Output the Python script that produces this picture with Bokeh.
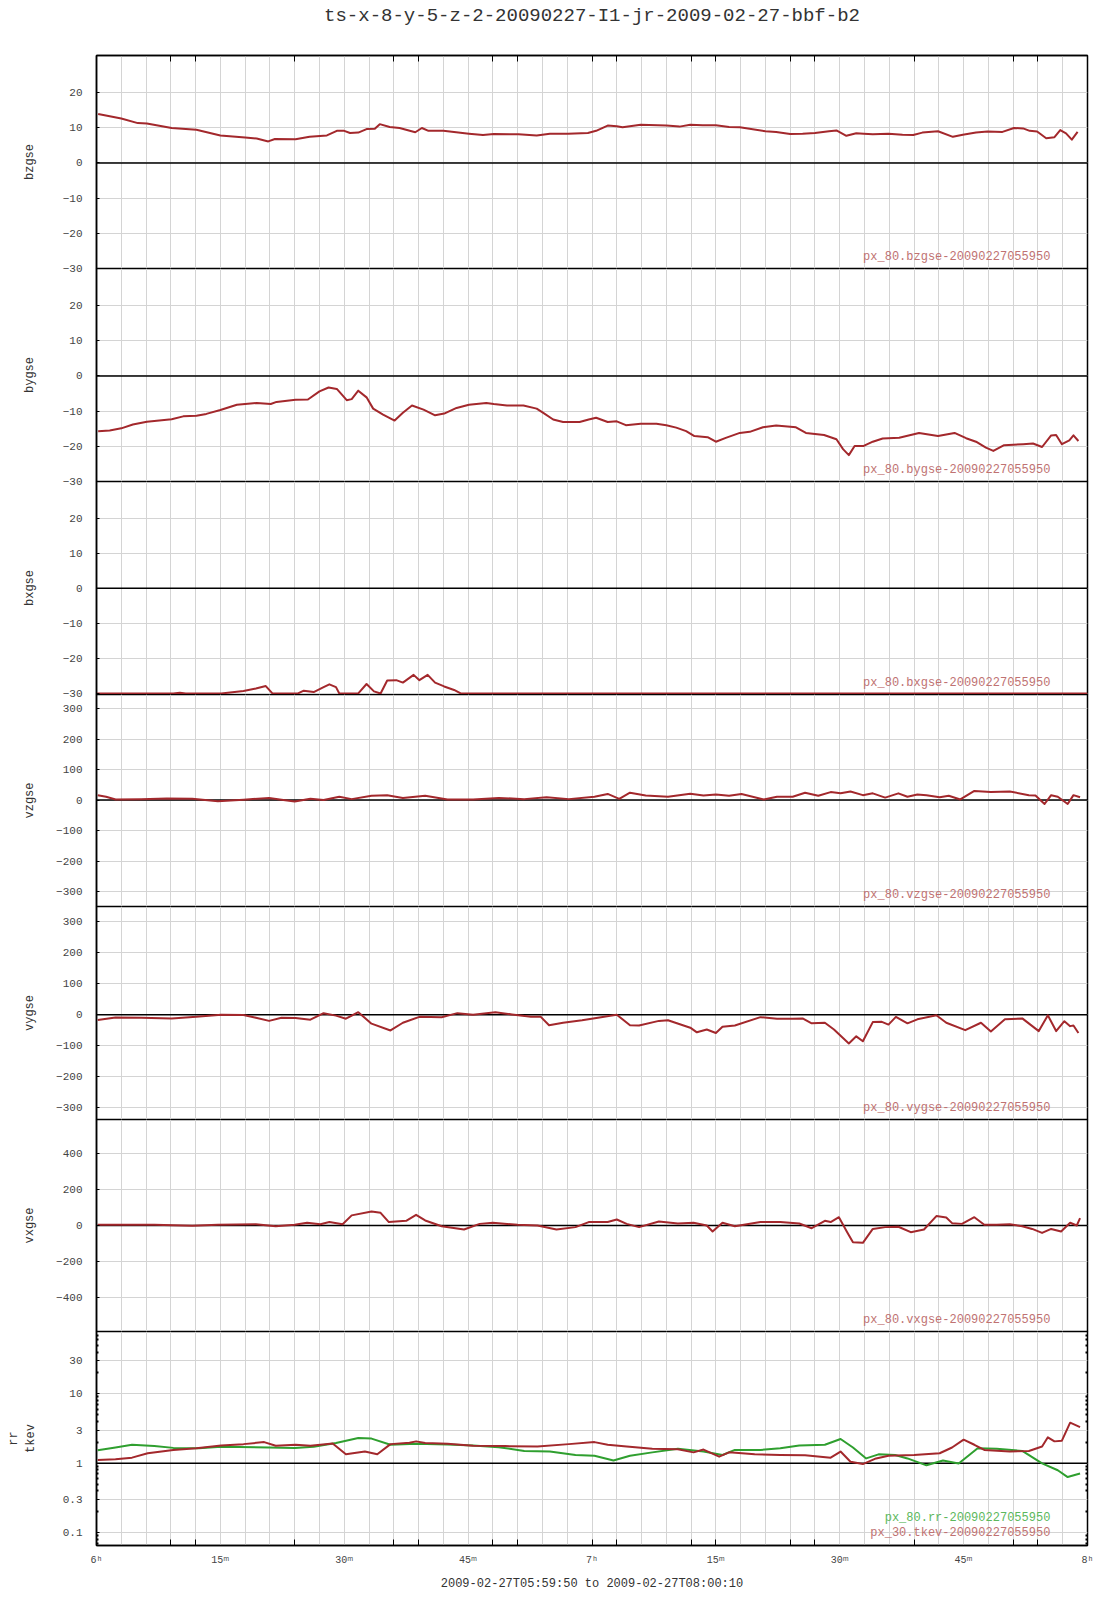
import math
from bokeh.plotting import figure
from bokeh.models import Range1d, FixedTicker, LinearAxis, LogAxis, Span, Label
from bokeh.layouts import column
from bokeh.embed import file_html
from bokeh.resources import INLINE

# ---------------- data (time in minutes after 06:00) ----------------
TITLE = "ts-x-8-y-5-z-2-20090227-I1-jr-2009-02-27-bbf-b2"
RANGE_TEXT = "2009-02-27T05:59:50 to 2009-02-27T08:00:10"

bz_t = [0.2, 3.0, 5.0, 6.1, 9.1, 12.1, 15.0, 18.0, 19.4, 20.8, 21.6, 24.1, 25.8, 27.9, 29.1,
        30.0, 30.7, 31.7, 32.7, 33.7, 34.3, 35.5, 36.7, 38.6, 39.4, 40.2, 42.0, 45.1, 46.8, 48.1,
        51.1, 53.3, 54.9, 57.1, 59.5, 60.5, 61.9, 63.0, 63.7, 65.9, 69.0, 70.6, 71.9, 73.4, 75.0,
        76.6, 77.9, 81.0, 82.3, 84.0, 85.5, 87.0, 88.7, 89.6, 90.8, 92.0, 92.9, 94.0, 95.9, 97.6,
        98.9, 100.0, 101.9, 103.7, 104.9, 106.5, 107.9, 109.7, 111.1, 112.2, 113.0, 113.9, 115.0,
        116.0, 116.7, 117.4, 118.1, 118.8]
bz_v = [13.9, 12.6, 11.3, 11.2, 9.9, 9.4, 7.8, 7.2, 6.9, 6.1, 6.8, 6.7, 7.4, 7.8, 9.1,
        9.1, 8.5, 8.6, 9.6, 9.7, 11.0, 10.2, 9.9, 8.7, 9.9, 9.1, 9.1, 8.3, 7.9, 8.2,
        8.1, 7.8, 8.3, 8.3, 8.5, 9.1, 10.6, 10.4, 10.1, 10.8, 10.6, 10.3, 10.8, 10.7, 10.7,
        10.2, 10.1, 9.0, 8.8, 8.2, 8.3, 8.5, 9.0, 9.2, 7.7, 8.4, 8.3, 8.1, 8.3, 8.0,
        7.9, 8.6, 9.0, 7.4, 8.0, 8.6, 8.9, 8.8, 9.9, 9.8, 9.1, 8.9, 7.0,
        7.3, 9.3, 8.4, 6.6, 8.8]

by_t = [0.2, 1.6, 3.0, 4.4, 6.1, 9.1, 10.5, 12.1, 13.3, 15.0, 17.0, 18.0, 19.4, 21.1, 21.8,
        24.1, 25.6, 27.0, 28.1, 29.1, 30.3, 30.9, 31.7, 32.7, 33.5, 34.7, 36.1, 37.1, 38.2, 39.6,
        41.0, 42.1, 43.6, 45.1, 47.2, 48.1, 49.7, 51.7, 53.3, 54.1, 55.3, 56.5, 58.5, 59.6,
        60.5, 61.9, 63.0, 64.1, 65.9, 67.8, 69.0, 70.2, 71.4, 72.4, 74.0, 75.0, 76.2, 77.9, 79.1,
        80.7, 82.3, 84.7, 85.9, 88.1, 89.6, 90.4, 91.1, 91.8, 92.9, 94.0, 95.2, 97.2, 99.6, 101.9,
        103.9, 105.3, 106.5, 107.7, 108.6, 109.9, 112.2, 113.4, 114.5, 115.6, 116.2, 116.9, 117.8,
        118.3, 118.9]
by_v = [-15.7, -15.5, -14.9, -13.8, -13.0, -12.3, -11.5, -11.3, -10.8, -9.7, -8.2, -8.0, -7.7, -8.0, -7.4,
        -6.8, -6.7, -4.4, -3.3, -3.7, -6.9, -6.6, -4.2, -6.1, -9.3, -11.0, -12.7, -10.5, -8.4, -9.6,
        -11.2, -10.7, -9.1, -8.2, -7.7, -8.0, -8.4, -8.4, -9.3, -10.5, -12.4, -13.1, -13.1, -12.4,
        -11.9, -13.1, -12.9, -14.0, -13.6, -13.6, -14.0, -14.7, -15.7, -17.1, -17.4, -18.7, -17.6, -16.2, -15.9,
        -14.6, -14.1, -14.6, -16.2, -16.8, -18.0, -20.8, -22.5, -19.9, -19.9, -18.7, -17.8, -17.6, -16.2, -17.1,
        -16.2, -17.7, -18.7, -20.4, -21.3, -19.7, -19.4, -19.2, -20.2, -16.9, -16.8, -19.4, -18.3,
        -16.9, -18.5]

bx_t = [0, 9.3, 10.1, 10.8, 15.1, 17.8, 19.3, 20.5, 21.3, 24.4, 25.1, 26.3, 27.5, 28.2, 29.0,
        29.4, 31.7, 32.7, 33.6, 34.4, 35.2, 36.3, 37.1, 38.4, 39.1, 40.1, 41.0, 42.1, 43.3, 44.1, 120]
bx_v = [-30, -30, -29.8, -30, -30, -29.3, -28.6, -27.9, -30, -30, -29.2, -29.6, -28.2, -27.4, -28.2,
        -30, -30, -27.3, -29.4, -30, -26.3, -26.2, -26.9, -24.7, -26.2, -24.7, -26.9, -28.0, -29.0, -30, -30]

vz_t = [0.15, 1.16, 2.32, 5.41, 8.51, 11.6, 14.7, 17.8, 20.9, 22.4, 24.0, 25.9, 27.5, 29.4, 30.9,
        33.3, 35.2, 37.1, 39.8, 42.5, 45.6, 48.7, 51.8, 54.5, 57.2, 60.3, 61.9, 63.3, 64.6, 66.5,
        69.2, 71.9, 73.5, 75.0, 76.6, 78.1, 80.8, 82.4, 84.3, 85.8, 87.4, 88.9, 90.1, 91.3, 92.8,
        94.0, 95.5, 97.1, 98.2, 99.4, 100.5, 102.1, 103.2, 104.6, 106.3, 108.3, 110.6, 112.9, 113.7,
        114.8, 115.6, 116.4, 117.6, 118.3, 119.1]
vz_v = [16, 11, 2, 3, 5, 4, -4, 1, 7, 1, -5, 4, 0, 11, 3,
        14, 16, 7, 14, 2, 2, 7, 3, 9, 3, 11, 20, 4, 24, 15,
        11, 21, 15, 18, 14, 20, 2, 11, 11, 24, 14, 26, 22, 28, 16,
        22, 8, 22, 11, 18, 16, 9, 14, 2, 30, 26, 28, 16, 15,
        -13, 16, 11, -13, 16, 9]

vy_t = [0.15, 2.3, 5.4, 9.1, 12.1, 15.1, 17.8, 19.3, 20.9, 22.4, 24.1, 25.9, 27.5, 29.0, 30.2,
        31.7, 33.3, 35.6, 37.1, 39.1, 41.8, 43.7, 45.6, 48.3, 50.3, 52.6, 53.8, 54.8, 56.5, 58.8,
        61.1, 63.0, 64.6, 65.7, 68.1, 69.2, 71.9, 72.7, 73.9, 75.0, 75.8, 77.3, 80.4, 82.4, 84.3,
        85.5, 86.6, 88.2, 89.3, 91.1, 92.0, 92.8, 94.0, 95.1, 95.9, 96.8, 98.2, 99.4, 101.7, 102.9,
        105.2, 107.1, 108.3, 110.0, 112.1, 114.1, 115.2, 116.2, 117.2, 117.9, 118.3, 118.9]
vy_v = [-17, -9, -10, -12, -7, 0, -1, -10, -20, -10, -11, -16, 5, -3, -13,
        8, -29, -51, -26, -7, -8, 5, 0, 8, 1, -7, -7, -34, -26, -18,
        -8, 0, -34, -35, -20, -18, -42, -57, -48, -59, -39, -35, -8, -13, -13,
        -12, -28, -26, -48, -93, -70, -86, -24, -23, -32, -7, -28, -15, -2, -26,
        -50, -26, -54, -15, -12, -53, -2, -53, -21, -37, -35, -59]

vx_t = [0.15, 3.9, 7.0, 11.6, 14.7, 19.3, 21.7, 24.0, 25.5, 27.1, 28.2, 29.8, 30.9, 33.3, 34.4,
        35.4, 37.5, 38.7, 39.8, 41.8, 44.5, 46.4, 48.0, 51.0, 53.4, 55.7, 58.0, 59.6, 61.9, 63.0,
        64.2, 65.7, 68.1, 70.4, 72.3, 73.9, 74.6, 75.8, 77.3, 80.4, 82.8, 85.1, 86.6, 88.2, 88.9,
        89.9, 90.9, 91.6, 92.8, 94.0, 95.5, 97.1, 98.6, 100.2, 101.7, 102.9, 103.6, 104.8, 106.3, 107.5,
        109.0, 110.6, 112.1, 113.3, 114.5, 115.6, 116.8, 117.9, 118.7, 119.1]
vx_v = [4, 4, 4, -2, 4, 7, -4, 4, 15, 7, 19, 7, 56, 78, 70,
        19, 26, 59, 28, -4, -22, 9, 15, 4, 0, -22, -9, 19, 19, 33,
        9, -9, 22, 11, 15, 0, -33, 15, -4, 19, 19, 11, -15, 26, 19,
        46, -37, -93, -96, -19, -9, -7, -37, -22, 52, 44, 13, 9, 46, 4,
        4, 7, -4, -19, -41, -19, -33, 15, 0, 41]

tkev_t = [0.15, 2.3, 4.3, 6.2, 9.3, 12.1, 15.1, 17.8, 20.3, 21.7, 24.1, 25.9, 28.6, 30.2, 32.5,
          34.0, 35.6, 37.9, 38.7, 39.8, 42.5, 45.6, 49.5, 53.4, 57.2, 60.3, 61.9, 64.2, 67.3, 70.4,
          72.3, 73.5, 75.4, 76.6, 79.7, 82.8, 85.8, 88.9, 90.1, 91.3, 92.8, 94.4, 95.9, 99.0, 102.1,
          103.6, 105.0, 106.3, 107.5, 110.6, 112.9, 114.5, 115.2, 116.0, 116.9, 117.9, 119.1]
tkev_v = [1.11, 1.14, 1.20, 1.39, 1.55, 1.64, 1.80, 1.88, 2.01, 1.78, 1.84, 1.78, 1.92, 1.34, 1.47,
          1.34, 1.88, 1.97, 2.06, 1.95, 1.90, 1.78, 1.76, 1.74, 1.88, 2.01, 1.84, 1.74, 1.61, 1.59,
          1.43, 1.57, 1.24, 1.43, 1.34, 1.31, 1.30, 1.20, 1.47, 1.05, 0.97, 1.17, 1.28, 1.31, 1.39,
          1.68, 2.18, 1.84, 1.55, 1.47, 1.50, 1.74, 2.36, 2.06, 2.11, 3.83, 3.31]

rr_t = [0.15, 2.3, 4.3, 7.0, 9.3, 12.4, 15.1, 20.9, 24.0, 26.3, 29.0, 31.7, 33.3, 35.6, 38.7,
        42.5, 45.6, 48.7, 51.8, 54.9, 58.0, 60.3, 62.6, 64.6, 67.3, 70.4, 73.5, 75.8, 77.3, 80.4,
        82.8, 85.1, 88.2, 90.1, 91.6, 93.2, 94.7, 96.7, 98.2, 100.5, 102.5, 104.4, 106.7, 109.0, 112.1,
        114.5, 116.4, 117.6, 119.1]
rr_v = [1.54, 1.68, 1.84, 1.76, 1.66, 1.64, 1.72, 1.68, 1.66, 1.72, 1.95, 2.31, 2.26, 1.84, 1.90,
        1.86, 1.80, 1.70, 1.50, 1.47, 1.31, 1.28, 1.09, 1.28, 1.43, 1.61, 1.47, 1.31, 1.55, 1.55,
        1.64, 1.80, 1.84, 2.23, 1.68, 1.17, 1.34, 1.31, 1.17, 0.93, 1.09, 0.99, 1.64, 1.61, 1.50,
        0.99, 0.79, 0.63, 0.71]

b_ticks = [-30, -20, -10, 0, 10, 20]
v3_ticks = [-300, -200, -100, 0, 100, 200, 300]
vx_ticks = [-400, -200, 0, 200, 400]
log_ticks = [0.1, 0.3, 1, 3, 10, 30]
log_labels = {0.1: "0.1", 0.3: "0.3", 1: "1", 3: "3", 10: "10", 30: "30"}
log_minor = [0.07, 0.08, 0.09, 0.2, 0.4, 0.5, 0.6, 0.7, 0.8, 0.9,
             2, 4, 5, 6, 7, 8, 9, 20, 40, 50, 60, 70]

x_label_minutes = [0, 15, 30, 45, 60, 75, 90, 105, 120]
x_labels = {0: "6ʰ", 15: "15ᵐ", 30: "30ᵐ", 45: "45ᵐ", 60: "7ʰ",
            75: "15ᵐ", 90: "30ᵐ", 105: "45ᵐ", 120: "8ʰ"}
x_tick_marks = [0, 9, 12, 24, 36, 39, 48, 51, 60, 63, 72, 75, 84, 87, 99, 111, 114]
grid_minutes = list(range(0, 121, 3))

# ---------------- style ----------------
FONT = "Liberation Mono"
RED = "#a3282c"
GREEN = "#2f9f2f"
LBL_RED = "#c07272"
LBL_GREEN = "#5cb85c"
GRID = "#d4d4d4"
FRAME_W = 991
OVER = 7          # canvas overlap so that edge tick labels are not cut
TOP_GAP = 5       # top border of the first panel (holds the top tick axis)
TITLE_H = 50      # height of the title strip above it


def make_panel(h, yr, yticks, ylabel, label_standoff, log=False, first=False, last=False):
    p = figure(frame_width=FRAME_W, frame_height=h,
               x_range=Range1d(0, 120), y_range=Range1d(*yr),
               y_axis_type="log" if log else "linear", x_axis_location=None,
               output_backend="svg", toolbar_location=None, title=None,
               min_border_left=96, min_border_right=12,
               min_border_top=TOP_GAP if first else 0,
               min_border_bottom=0 if last else OVER,
               margin=(0, 0, 0, 0) if first else (-OVER, 0, 0, 0))
    p.outline_line_color = "black"
    p.outline_line_width = 1.5
    p.background_fill_color = "white"
    p.border_fill_color = None
    p.xgrid.ticker = FixedTicker(ticks=grid_minutes)
    p.ygrid.ticker = FixedTicker(ticks=yticks)
    p.xgrid.grid_line_color = GRID
    p.ygrid.grid_line_color = GRID
    ax = p.yaxis[0]
    ax.ticker = FixedTicker(ticks=yticks, minor_ticks=log_minor if log else [])
    if log:
        ax.major_label_overrides = log_labels
    ax.axis_line_color = "black"
    ax.axis_line_width = 1.5
    ax.major_tick_in = 3
    ax.major_tick_out = 0
    ax.major_tick_line_color = "black"
    ax.minor_tick_in = 2 if log else 0
    ax.minor_tick_out = 0
    ax.minor_tick_line_width = 2
    ax.minor_tick_line_color = "black"
    ax.major_label_text_font = FONT
    ax.major_label_text_font_size = "11px"
    ax.major_label_text_color = "#444444"
    ax.major_label_standoff = 14
    ax.axis_label = ylabel
    ax.axis_label_text_font = FONT
    ax.axis_label_text_font_size = "12px"
    ax.axis_label_text_font_style = "normal"
    ax.axis_label_text_color = "#333333"
    ax.axis_label_standoff = label_standoff
    return p


def name_label(p, text, color, y):
    p.add_layout(Label(x=115.5, y=y, text=text, text_align="right", text_baseline="middle",
                       text_font=FONT, text_font_size="12px", text_color=color))


def lin_y(yr, h, d):
    return yr[0] + (yr[1] - yr[0]) * d / h


def log_y(yr, h, d):
    lo, hi = math.log10(yr[0]), math.log10(yr[1])
    return 10 ** (lo + (hi - lo) * d / h)


# title strip: a bare figure whose frame holds the title text
tf = figure(frame_width=FRAME_W, frame_height=TITLE_H,
            x_range=Range1d(0, 120), y_range=Range1d(0, TITLE_H),
            x_axis_location=None, y_axis_location=None,
            output_backend="svg", toolbar_location=None, title=None,
            min_border_left=96, min_border_right=12, min_border_top=0, min_border_bottom=0)
tf.outline_line_color = None
tf.grid.visible = False
tf.background_fill_color = None
tf.border_fill_color = None
tf.add_layout(Label(x=60, y=TITLE_H - 15, text=TITLE, text_align="center",
                    text_baseline="middle", text_font=FONT, text_font_size="19px",
                    text_color="#333333"))

panels = [
    ("bzgse", bz_t, bz_v, (-30, 30.5), b_ticks, 213, 23),
    ("bygse", by_t, by_v, (-30, 30.5), b_ticks, 213, 23),
    ("bxgse", bx_t, bx_v, (-30.3, 30.5), b_ticks, 213, 23),
    ("vzgse", vz_t, vz_v, (-349, 346), v3_ticks, 212, 16),
    ("vygse", vy_t, vy_v, (-339, 350), v3_ticks, 213, 16),
    ("vxgse", vx_t, vx_v, (-587, 587), vx_ticks, 212, 16),
]

figs = [tf]
for i, (name, t, v, yr, yt, h, st) in enumerate(panels):
    p = make_panel(h, yr, yt, name, st, first=(i == 0))
    if i == 0:
        top_ax = LinearAxis(ticker=FixedTicker(ticks=[], minor_ticks=x_tick_marks),
                            minor_tick_in=6, minor_tick_out=0, minor_tick_line_color="black",
                            major_tick_in=0, major_tick_out=0,
                            major_label_text_font_size="0px", major_label_standoff=0,
                            axis_line_color="black", axis_line_width=1.5)
        p.add_layout(top_ax, "above")
    p.add_layout(Span(location=0, dimension="width", line_color="black",
                      line_width=1.5, level="underlay"))
    p.line(t, v, line_color=RED, line_width=2, line_join="round")
    name_label(p, "px_80.%s-20090227055950" % name, LBL_RED, lin_y(yr, h, 12))
    figs.append(p)

# log panel (rr / tkev)
lyr = (0.065, 79)
lh = 214
p = make_panel(lh, lyr, log_ticks, "rr\ntkev", 22, log=True, last=True)
p.add_layout(Span(location=1, dimension="width", line_color="black",
                  line_width=1.5, level="underlay"))
p.line(rr_t, rr_v, line_color=GREEN, line_width=2, line_join="round")
p.line(tkev_t, tkev_v, line_color=RED, line_width=2, line_join="round")
name_label(p, "px_80.rr-20090227055950", LBL_GREEN, log_y(lyr, lh, 28))
name_label(p, "px_30.tkev-20090227055950", LBL_RED, log_y(lyr, lh, 13))
ra = LogAxis(ticker=FixedTicker(ticks=[], minor_ticks=log_minor),
             minor_tick_in=2, minor_tick_out=0, minor_tick_line_width=2,
             minor_tick_line_color="black", major_tick_in=0, major_tick_out=0,
             major_label_text_font_size="0px", major_label_standoff=0,
             axis_line_color=None)
p.add_layout(ra, "right")
xa = LinearAxis(ticker=FixedTicker(ticks=x_label_minutes, minor_ticks=x_tick_marks),
                major_label_overrides=x_labels,
                major_tick_in=0, major_tick_out=0,
                minor_tick_in=6, minor_tick_out=0, minor_tick_line_color="black",
                axis_line_color="black", axis_line_width=1.5,
                major_label_text_font=FONT, major_label_text_font_size="10px",
                major_label_text_color="#444444", major_label_standoff=9,
                axis_label=RANGE_TEXT, axis_label_text_font=FONT,
                axis_label_text_font_size="12px", axis_label_text_font_style="normal",
                axis_label_text_color="#333333", axis_label_standoff=8)
p.add_layout(xa, "below")
figs.append(p)

layout = column(*figs, spacing=0)
open("out.html", "w").write(file_html(layout, INLINE))
